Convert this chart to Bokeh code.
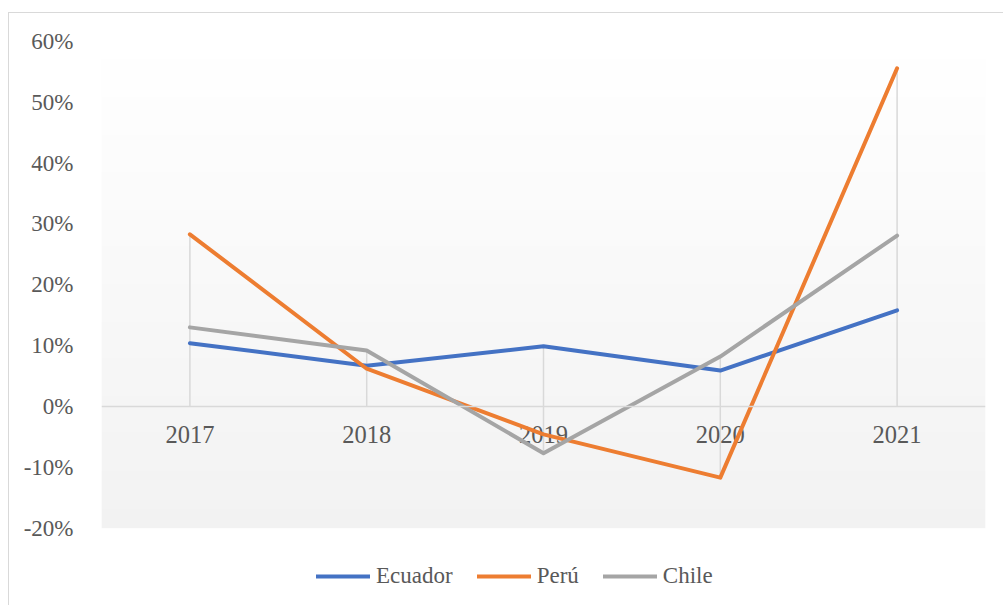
import numpy as np
from bokeh.plotting import figure
from bokeh.models import (FactorRange, Range1d, FixedTicker, NumeralTickFormatter,
                          Span, Legend, LegendItem)
from bokeh.core.properties import value
from bokeh.embed import file_html
from bokeh.resources import INLINE

years = ["2017", "2018", "2019", "2020", "2021"]
ecuador = [0.104, 0.067, 0.099, 0.059, 0.158]
peru = [0.283, 0.062, -0.046, -0.117, 0.556]
chile = [0.130, 0.092, -0.077, 0.082, 0.281]
y_ticks = [-0.2, -0.1, 0.0, 0.1, 0.2, 0.3, 0.4, 0.5, 0.6]

series = [("Ecuador", ecuador, "#4472C4"),
          ("Perú", peru, "#ED7D31"),
          ("Chile", chile, "#A5A5A5")]

FONT = "'Liberation Serif', 'Times New Roman', serif"
TXT = "#595959"
GRID = "#d9d9d9"

# layout: plot area 486.6 px tall for the tick span, plus room below for the legend
AREA_PX = 486.6
EXTRA_PX = 77.4
span = y_ticks[-1] - y_ticks[0]
y_start = y_ticks[0] - span * EXTRA_PX / AREA_PX

p = figure(x_range=FactorRange(factors=years, range_padding=0),
           y_range=Range1d(y_start, y_ticks[-1]),
           frame_width=884, frame_height=int(round(AREA_PX + EXTRA_PX)),
           min_border_left=92, min_border_right=18,
           min_border_top=28, min_border_bottom=0,
           x_axis_location=None,
           output_backend="svg", toolbar_location=None,
           background_fill_color="white", border_fill_color="white",
           outline_line_color=None,
           styles={"margin-top": "12px", "margin-left": "8px",
                   "border-top": "1px solid #d9d9d9",
                   "border-left": "1px solid #d9d9d9"})
p.grid.visible = False

# gradient plot-area background
n = 256
top = np.array([255, 255, 255], dtype=float)
bot = np.array([242, 242, 242], dtype=float)
t = np.linspace(0, 1, n)[:, None]
rgb = (bot * (1 - t) + top * t).round().astype(np.uint8)
img = np.zeros((n, 1), dtype=np.uint32)
view = img.view(dtype=np.uint8).reshape((n, 1, 4))
view[:, 0, 0] = rgb[:, 0]
view[:, 0, 1] = rgb[:, 1]
view[:, 0, 2] = rgb[:, 2]
view[:, 0, 3] = 255
p.image_rgba(image=[img], x=0, y=y_ticks[0], dw=len(years),
             dh=span, level="image")

# drop lines
allv = np.array([ecuador, peru, chile])
lows = np.minimum(allv.min(axis=0), 0).tolist()
highs = np.maximum(allv.max(axis=0), 0).tolist()
p.segment(x0=years, y0=lows, x1=years, y1=highs, line_color=GRID, line_width=1.5)

# zero axis line
p.add_layout(Span(location=0, dimension="width", line_color=GRID, line_width=1.5))

# category labels next to the zero line
p.text(x=years, y=[0] * len(years), text=years, text_align="center",
       text_baseline="top", y_offset=20, text_font=value(FONT),
       text_font_size="24.5px", text_color=TXT)

items = []
for name, vals, col in series:
    r = p.line(years, vals, line_color=col, line_width=4,
               line_cap="round", line_join="round")
    items.append(LegendItem(label=name, renderers=[r]))

# y axis
ya = p.yaxis[0]
ya.ticker = FixedTicker(ticks=y_ticks)
ya.formatter = NumeralTickFormatter(format="0%")
ya.axis_line_color = None
ya.major_tick_line_color = None
ya.minor_tick_line_color = None
ya.major_label_standoff = 22
ya.major_label_text_font = FONT
ya.major_label_text_font_size = "23px"
ya.major_label_text_color = TXT

legend = Legend(items=items, orientation="horizontal", location=(215, 16),
                glyph_width=54, glyph_height=24, label_standoff=6, spacing=24,
                padding=0, margin=0, border_line_color=None,
                background_fill_alpha=0,
                label_text_font=FONT, label_text_font_size="23px",
                label_text_color=TXT, label_height=24)
p.add_layout(legend, "center")

open("out.html", "w").write(file_html(p, INLINE))
